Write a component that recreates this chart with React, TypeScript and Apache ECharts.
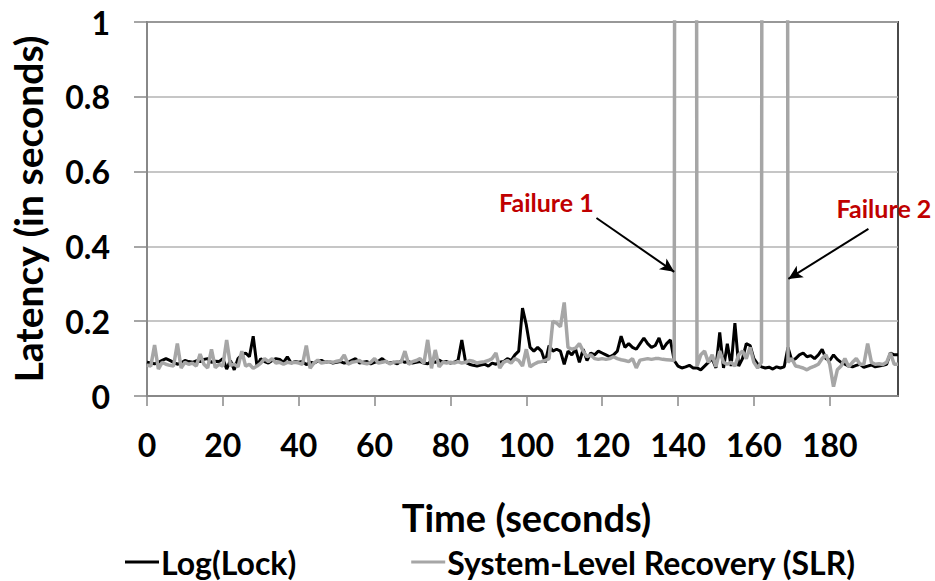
import React, { useEffect, useRef } from "react";
import * as echarts from "echarts";

const times: number[] = Array.from({ length: 199 }, (_, i) => i);

const logLock: number[] = [
  0.09, 0.088, 0.086, 0.09, 0.095, 0.1, 0.095, 0.09, 0.085, 0.088,
  0.095, 0.092, 0.09, 0.094, 0.092, 0.098, 0.1, 0.09, 0.093, 0.092,
  0.1, 0.072, 0.095, 0.07, 0.1, 0.11, 0.115, 0.105, 0.16, 0.08,
  0.1, 0.092, 0.088, 0.095, 0.1, 0.098, 0.09, 0.105, 0.088, 0.092,
  0.09, 0.092, 0.084, 0.09, 0.088, 0.093, 0.095, 0.09, 0.092, 0.088,
  0.09, 0.092, 0.088, 0.09, 0.095, 0.1, 0.088, 0.09, 0.092, 0.086,
  0.09, 0.093, 0.1, 0.092, 0.088, 0.09, 0.086, 0.094, 0.09, 0.092,
  0.088, 0.09, 0.092, 0.088, 0.086, 0.094, 0.09, 0.096, 0.09, 0.092,
  0.088, 0.09, 0.095, 0.15, 0.09, 0.085, 0.082, 0.08, 0.083, 0.085,
  0.08, 0.088, 0.085, 0.09, 0.092, 0.1, 0.095, 0.11, 0.12, 0.235,
  0.19, 0.13, 0.12, 0.13, 0.12, 0.09, 0.135, 0.12, 0.125, 0.12,
  0.085, 0.12, 0.11, 0.125, 0.09, 0.125, 0.095, 0.115, 0.11, 0.12,
  0.115, 0.11, 0.105, 0.11, 0.12, 0.16, 0.13, 0.14, 0.13, 0.125,
  0.14, 0.155, 0.14, 0.13, 0.135, 0.155, 0.125, 0.14, 0.15, 0.095,
  0.08, 0.075, 0.078, 0.082, 0.075, 0.075, 0.07, 0.08, 0.09, 0.1,
  0.075, 0.17, 0.075, 0.14, 0.08, 0.195, 0.08, 0.1, 0.14, 0.135,
  0.1, 0.085, 0.078, 0.075, 0.077, 0.072, 0.078, 0.075, 0.078, 0.13,
  0.095, 0.1, 0.11, 0.115, 0.105, 0.108, 0.1, 0.11, 0.125, 0.1,
  0.095, 0.11, 0.098, 0.09, 0.085, 0.08, 0.078, 0.082, 0.085, 0.077,
  0.08, 0.083, 0.078, 0.08, 0.082, 0.085, 0.115, 0.11, 0.11,
];

const slr: number[] = [
  0.083, 0.08, 0.136, 0.072, 0.09, 0.085, 0.082, 0.08, 0.14, 0.075,
  0.09, 0.085, 0.088, 0.08, 0.112, 0.085, 0.075, 0.125, 0.076, 0.085,
  0.08, 0.15, 0.082, 0.085, 0.078, 0.12, 0.08, 0.085, 0.074, 0.08,
  0.088, 0.1, 0.092, 0.1, 0.088, 0.09, 0.085, 0.09, 0.088, 0.09,
  0.088, 0.085, 0.135, 0.074, 0.088, 0.096, 0.088, 0.09, 0.092, 0.09,
  0.093, 0.095, 0.11, 0.085, 0.09, 0.092, 0.095, 0.088, 0.086, 0.09,
  0.1, 0.088, 0.09, 0.093, 0.086, 0.09, 0.092, 0.09, 0.12, 0.085,
  0.092, 0.095, 0.1, 0.087, 0.15, 0.074, 0.123, 0.078, 0.09, 0.088,
  0.09, 0.088, 0.092, 0.088, 0.09, 0.095, 0.093, 0.088, 0.09, 0.092,
  0.095, 0.1, 0.115, 0.075, 0.09, 0.095, 0.088, 0.1, 0.095, 0.08,
  0.125, 0.078, 0.085, 0.09, 0.092, 0.095, 0.1, 0.2, 0.195, 0.185,
  0.25, 0.13, 0.125, 0.128, 0.14, 0.12, 0.105, 0.11, 0.1, 0.098,
  0.1, 0.098, 0.1, 0.105, 0.1, 0.097, 0.095, 0.092, 0.1, 0.075,
  0.096, 0.098, 0.1, 0.098, 0.1, 0.1, 0.098, 0.097, 0.096, 0.095,
  10, 10, 10, 10, 10, 0.08, 0.11, 0.12, 0.09, 0.11,
  0.078, 0.12, 0.09, 0.085, 0.09, 0.08, 0.11, 0.12, 0.1, 0.13,
  0.09, 0.075, 0.09, 10, 10, 10, 10, 10, 10, 0.09,
  0.1, 0.08, 0.078, 0.075, 0.07, 0.076, 0.08, 0.085, 0.1, 0.11,
  0.085, 0.025, 0.07, 0.08, 0.1, 0.078, 0.09, 0.1, 0.085, 0.085,
  0.14, 0.09, 0.085, 0.086, 0.084, 0.09, 0.115, 0.085, 0.085,
];

const xTickLabels: number[] = [0, 20, 40, 60, 80, 100, 120, 140, 160, 180];
const seriesNames: string[] = ["Log(Lock)", "System-Level Recovery (SLR)"];
const failureLabels: string[] = ["Failure 1", "Failure 2"];
const failureLabelAt: number[][] = [[105.3, 0.519], [194.3, 0.503]];
const arrowFrom: number[][] = [[118.5, 0.476], [190.2, 0.447]];
const arrowTo: number[][] = [[139, 0.332], [169.1, 0.313]];

const FONT = "Lato";

export default function App() {
  const ref = useRef<HTMLDivElement>(null);
  useEffect(() => {
    if (!ref.current) return;
    const chart = echarts.init(ref.current, undefined, { renderer: "svg" });
    const toPairs = (arr: number[]) => arr.map((v, i) => [times[i], v]);
    chart.setOption({
      animation: false,
      backgroundColor: "#ffffff",
      textStyle: { fontFamily: FONT },
      grid: {
        left: 147,
        right: 37,
        top: 22,
        bottom: 185,
        containLabel: false,
        outerBoundsMode: "none",
        show: true,
        borderColor: "#4a4a4a",
        borderWidth: 2,
      },
      legend: {
        left: 120,
        top: 541,
        icon: "rect",
        itemWidth: 34,
        itemHeight: 3,
        itemGap: 115,
        textStyle: { fontFamily: FONT, fontWeight: "bold", fontSize: 32, color: "#000", padding: [0, 0, 0, -3] },
        data: seriesNames,
      },
      xAxis: {
        type: "value",
        min: 0,
        max: 198,
        interval: 20,
        name: "Time (seconds)",
        nameLocation: "middle",
        nameGap: 102,
        nameTextStyle: { fontFamily: FONT, fontWeight: "bold", fontSize: 38, color: "#000", padding: [0, 0, 0, 8] },
        axisLine: { show: true, lineStyle: { color: "#888888", width: 2 } },
        axisTick: { show: true, length: 10, lineStyle: { color: "#888888", width: 1.5 }, customValues: xTickLabels },
        axisLabel: {
          fontFamily: FONT,
          fontWeight: "bold",
          fontSize: 32,
          color: "#000",
          margin: 32,
          customValues: xTickLabels,
        },
        splitLine: { show: false },
      },
      yAxis: {
        type: "value",
        min: 0,
        max: 1,
        interval: 0.2,
        name: "Latency (in seconds)",
        nameLocation: "middle",
        nameGap: 100,
        nameTextStyle: { fontFamily: FONT, fontWeight: "bold", fontSize: 39, color: "#000" },
        axisLine: { show: true, lineStyle: { color: "#888888", width: 2 } },
        axisTick: { show: true, length: 13, lineStyle: { color: "#888888", width: 1.5 } },
        axisLabel: {
          fontFamily: FONT,
          fontWeight: "bold",
          fontSize: 32,
          color: "#000",
          margin: 37,
          formatter: (v: number) => String(Math.round(v * 10) / 10),
        },
        splitLine: { show: true, lineStyle: { color: "#b3b3b3", width: 1.5 } },
      },
      series: [
        {
          name: seriesNames[0],
          type: "line",
          data: toPairs(logLock),
          showSymbol: false,
          symbol: "none",
          clip: true,
          color: "#000000",
          lineStyle: { color: "#000000", width: 3 },
          z: 2,
        },
        {
          name: seriesNames[1],
          type: "line",
          data: toPairs(slr),
          showSymbol: false,
          symbol: "none",
          clip: true,
          color: "#a6a6a6",
          lineStyle: { color: "#a6a6a6", width: 3.5 },
          z: 3,
          markLine: {
            silent: true,
            symbol: ["none", "arrow"],
            symbolSize: [10, 14],
            lineStyle: { color: "#000000", width: 2, type: "solid" },
            label: { show: false },
            data: arrowFrom.map((f, i) => [{ coord: f }, { coord: arrowTo[i] }]),
          },
          markPoint: {
            silent: true,
            symbol: "circle",
            symbolSize: 1,
            itemStyle: { color: "rgba(0,0,0,0)" },
            label: {
              show: true,
              position: "inside",
              fontFamily: FONT,
              fontWeight: "bold",
              fontSize: 25,
              color: "#c00000",
            },
            data: failureLabelAt.map((c, i) => ({ coord: c, value: failureLabels[i], label: { formatter: failureLabels[i] } })),
          },
        },
      ],
    });
    return () => chart.dispose();
  }, []);
  return <div ref={ref} style={{ width: 935, height: 581, position: "absolute", left: 0, top: 0 }} />;
}
